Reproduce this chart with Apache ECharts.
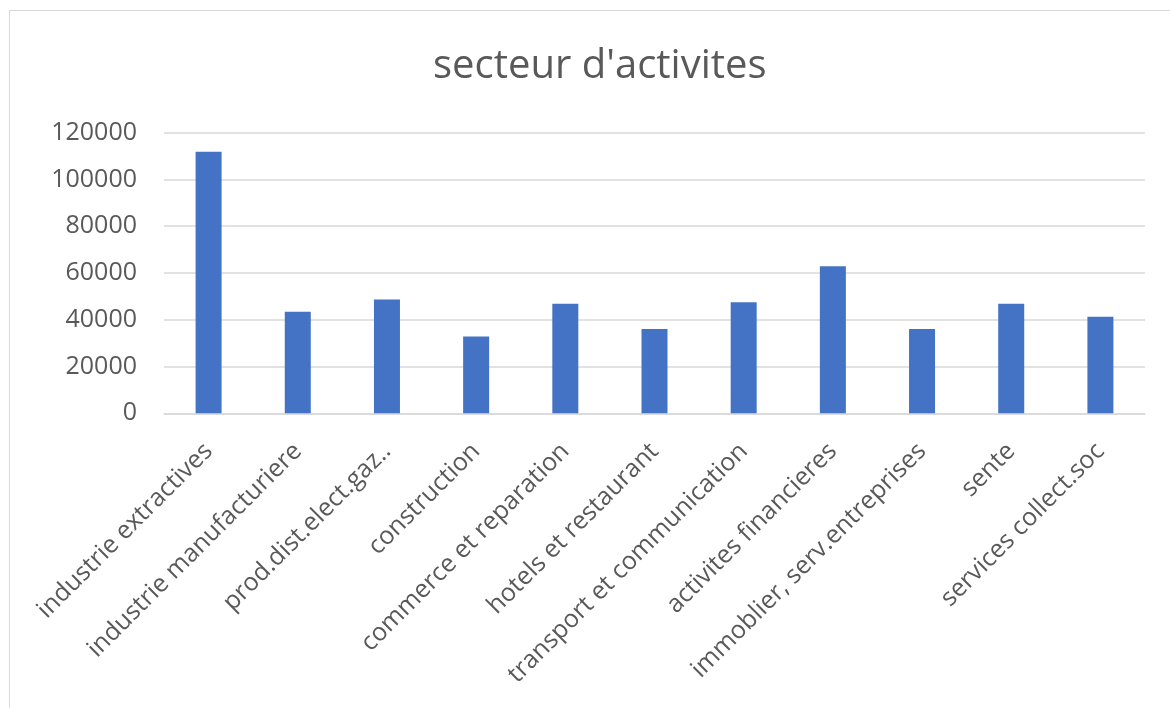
<!DOCTYPE html>
<html>
<head>
<meta charset="utf-8">
<script src="https://cdn.jsdelivr.net/npm/echarts@6/dist/echarts.min.js"></script>
<style>
  html, body { margin: 0; padding: 0; background: #fff; }
  #frame { position: absolute; left: 9px; top: 10px; width: 1170px; height: 720px; border: 1.5px solid #d9d9d9; box-sizing: border-box; }
  #chart { position: absolute; left: 0; top: 0; width: 1170px; height: 708px; }
</style>
</head>
<body>
<div id="frame"></div>
<div id="chart"></div>
<script>
const titleText = "secteur d'activites";
const categories = [
  "industrie extractives",
  "industrie manufacturiere",
  "prod.dist.elect.gaz..",
  "construction",
  "commerce et reparation",
  "hotels et restaurant",
  "transport et communication",
  "activites financieres",
  "immoblier, serv.entreprises",
  "sente",
  "services collect.soc"
];
const values = [111900, 43400, 48700, 32800, 46900, 36000, 47500, 62900, 36000, 46900, 41300];
const yTicks = { min: 0, max: 120000, interval: 20000 };

const chart = echarts.init(document.getElementById('chart'));
const font = "'Open Sans', 'Noto Sans', sans-serif";
chart.setOption({
  animation: false,
  title: {
    text: titleText,
    left: 428,
    top: 42,
    textStyle: { fontFamily: font, fontSize: 40, fontWeight: 'normal', color: '#595959' }
  },
  grid: { left: 164, right: 25, top: 132.7, bottom: 294.7, containLabel: false },
  xAxis: {
    type: 'category',
    data: categories,
    axisLine: { lineStyle: { color: '#d9d9d9', width: 1.5 } },
    axisTick: { show: false },
    axisLabel: {
      interval: 0,
      rotate: 45,
      margin: 34,
      fontFamily: font,
      fontSize: 25,
      color: '#595959'
    }
  },
  yAxis: {
    type: 'value',
    min: yTicks.min,
    max: yTicks.max,
    interval: yTicks.interval,
    axisLine: { show: false },
    axisTick: { show: false },
    splitLine: { lineStyle: { color: '#d9d9d9', width: 1.5 } },
    axisLabel: { fontFamily: font, fontSize: 25, color: '#595959', margin: 27, formatter: v => String(v) }
  },
  series: [{
    type: 'bar',
    data: values,
    barWidth: 26,
    itemStyle: { color: '#4472c4' }
  }]
});
</script>
</body>
</html>
